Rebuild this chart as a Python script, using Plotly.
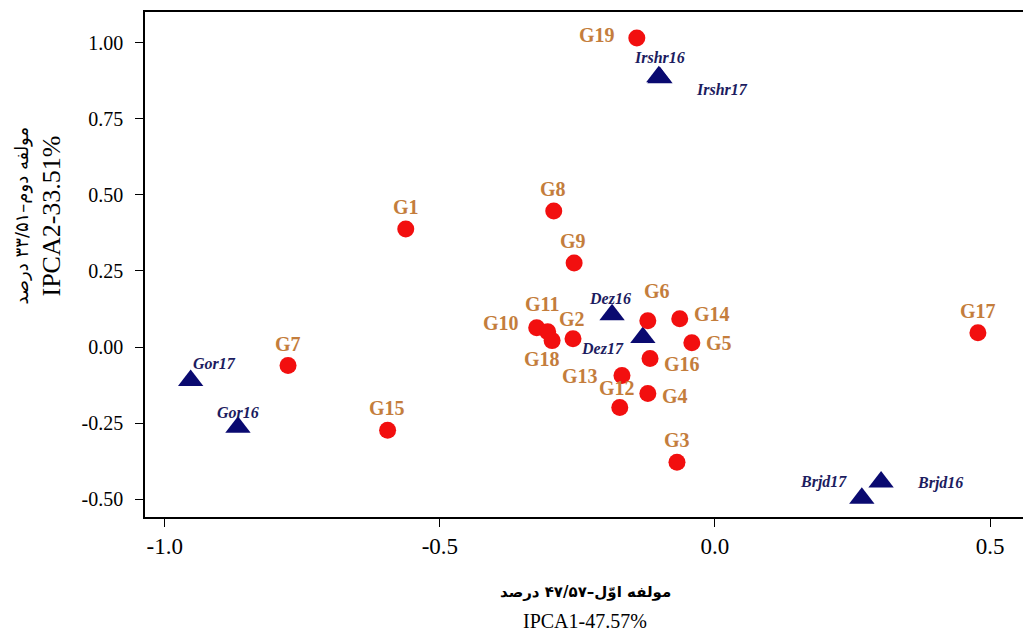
import plotly.graph_objects as go

# genotype scores (IPCA1, IPCA2)
genotypes = ["G1", "G2", "G3", "G4", "G5", "G6", "G7", "G8", "G9", "G10",
             "G11", "G12", "G13", "G14", "G15", "G16", "G17", "G18", "G19"]
g_ipca1 = [-0.562, -0.258, -0.069, -0.122, -0.042, -0.122, -0.776, -0.293, -0.256, -0.324,
           -0.304, -0.173, -0.169, -0.064, -0.595, -0.118, 0.478, -0.296, -0.142]
g_ipca2 = [0.388, 0.027, -0.379, -0.153, 0.014, 0.086, -0.061, 0.447, 0.276, 0.063,
           0.050, -0.199, -0.094, 0.093, -0.274, -0.038, 0.047, 0.021, 1.016]

# environment scores
environments = ["Irshr16", "Irshr17", "Gor17", "Gor16", "Dez16", "Dez17", "Brjd16", "Brjd17"]
e_ipca1 = [-0.102, -0.100, -0.953, -0.867, -0.187, -0.131, 0.302, 0.267]
e_ipca2 = [0.889, 0.885, -0.110, -0.264, 0.106, 0.031, -0.444, -0.497]

x_ticks = [-1.0, -0.5, 0.0, 0.5]
y_ticks = [1.00, 0.75, 0.50, 0.25, 0.00, -0.25, -0.50]

# label offsets in pixels (dx, dy) -- styling only
g_offsets = {"G1": (0, 22), "G2": (-1, 20), "G3": (0, 22), "G4": (27, -2), "G5": (27, 0),
             "G6": (9, 30), "G7": (0, 22), "G8": (-1, 22), "G9": (-1, 22), "G10": (-36, 5),
             "G11": (-6, 28), "G12": (-3, 20), "G13": (-42, 0), "G14": (32, 5), "G15": (-1, 22),
             "G16": (32, -5), "G17": (0, 22), "G18": (-10, -18), "G19": (-40, 3)}
e_offsets = {"Irshr16": (1, 19), "Irshr17": (62, -12), "Gor17": (24, 17), "Gor16": (0, 15),
             "Dez16": (-2, 16), "Dez17": (-40, -11), "Brjd16": (59, -1), "Brjd17": (-38, 16)}

SERIF = "Liberation Serif, Times New Roman, serif"
fig = go.Figure()

fig.add_trace(go.Scatter(x=e_ipca1, y=e_ipca2, mode="markers", name="Environments",
                         marker=dict(symbol="triangle-up", size=22, color="#0a0a70")))
fig.add_trace(go.Scatter(x=g_ipca1, y=g_ipca2, mode="markers", name="Genotypes",
                         marker=dict(symbol="circle", size=17, color="#f20f0f")))

for name, x, y in zip(genotypes, g_ipca1, g_ipca2):
    dx, dy = g_offsets[name]
    fig.add_annotation(x=x, y=y, text="<b>%s</b>" % name, showarrow=False, xshift=dx, yshift=dy,
                       font=dict(family=SERIF, size=20, color="#c47d3c"))

for name, x, y in zip(environments, e_ipca1, e_ipca2):
    dx, dy = e_offsets[name]
    fig.add_annotation(x=x, y=y, text="<b><i>%s</i></b>" % name, showarrow=False, xshift=dx, yshift=dy,
                       font=dict(family=SERIF, size=16, color="#1c1c60"))

# axis titles (Persian + English)
fig.add_annotation(x=0.5, y=-0.171, xref="paper", yref="paper", showarrow=False,
                   text="<b>مولفه اوّل–۴۷/۵۷ درصد</b>", font=dict(family="DejaVu Sans", size=15, color="black"))
fig.add_annotation(x=0.5, y=-0.231, xref="paper", yref="paper", showarrow=False,
                   text="IPCA1-47.57%", font=dict(family=SERIF, size=20, color="black"))
fig.add_annotation(x=-0.155, y=0.596, xref="paper", yref="paper", showarrow=False, textangle=-90,
                   text="مولفه دوم–۳۳/۵۱ درصد", font=dict(family="DejaVu Sans", size=18, color="black"))
fig.add_annotation(x=-0.125, y=0.596, xref="paper", yref="paper", showarrow=False, textangle=-90,
                   text="IPCA2-33.51%", font=dict(family=SERIF, size=26, color="black"))

fig.update_xaxes(range=[-1.036, 0.5636], tickvals=x_ticks, ticktext=["%.1f" % v for v in x_ticks],
                 ticks="outside", ticklen=8, tickcolor="black", showgrid=False, zeroline=False,
                 showline=True, linecolor="black", linewidth=1.5, mirror=True,
                 tickfont=dict(family=SERIF, size=23, color="black"))
fig.update_yaxes(range=[-0.559, 1.1016], tickvals=y_ticks, ticktext=["%.2f" % v for v in y_ticks],
                 ticks="outside", ticklen=8, tickcolor="black", showgrid=False, zeroline=False,
                 showline=True, linecolor="black", linewidth=1.5, mirror=True, ticklabelstandoff=8,
                 tickfont=dict(family=SERIF, size=20, color="black"))

# page body keeps an 8px default margin, so the margins below account for it
fig.update_layout(width=1031, height=637, showlegend=False,
                  plot_bgcolor="white", paper_bgcolor="white",
                  margin=dict(l=137, r=14, t=2, b=128))

fig.write_html("out.html")
